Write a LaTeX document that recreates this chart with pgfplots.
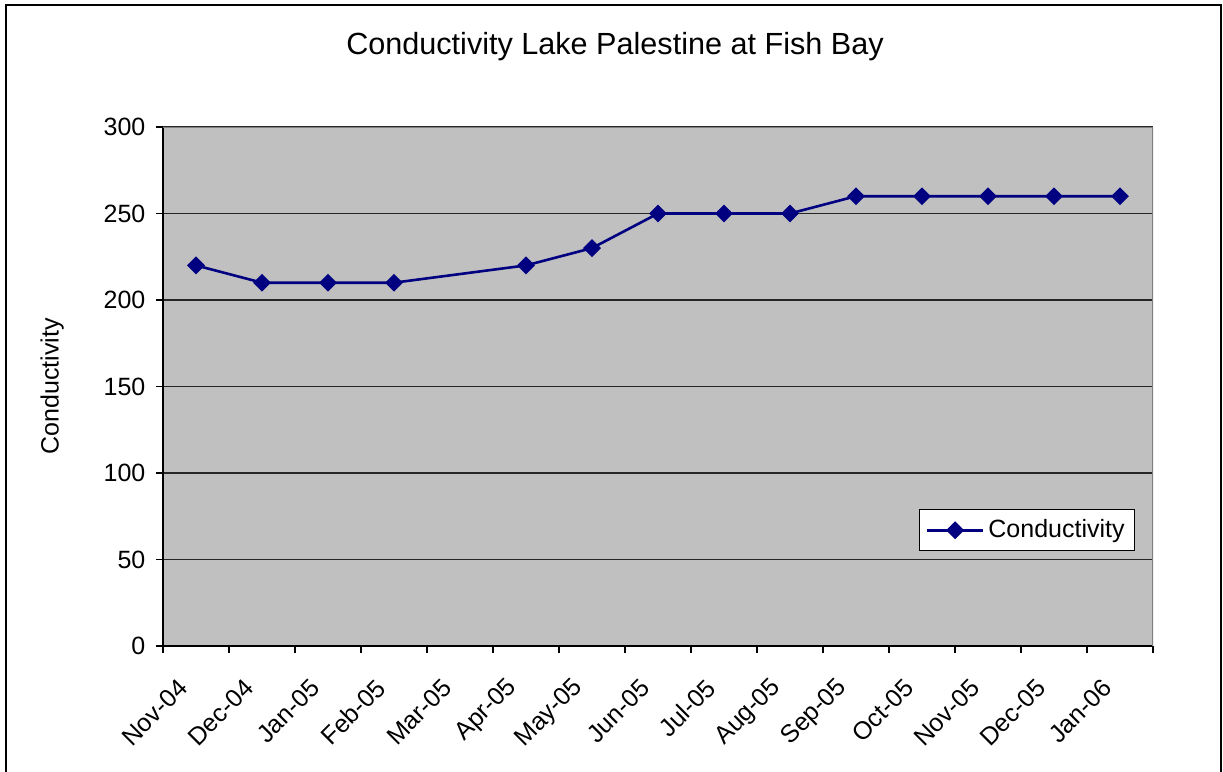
\documentclass[border=0pt]{standalone}
\usepackage{fontspec}
\setmainfont{Liberation Sans}
\usepackage{pgfplots}
\pgfplotsset{compat=1.18}

\definecolor{plotgray}{HTML}{C0C0C0}
\definecolor{navyblue}{HTML}{000080}
\definecolor{framegray}{HTML}{808080}

\begin{document}
\begin{tikzpicture}
\useasboundingbox (0,0) rectangle (611.5pt,386pt);
% outer chart frame (bottom edge lies outside the page)
\draw[line width=1pt] (3pt,-2pt) -- (3pt,383.5pt) -- (610.5pt,383.5pt) -- (610.5pt,-2pt);
\node[font=\fontsize{15.3}{18}\selectfont] at (307.5pt,362.5pt) {Conductivity Lake Palestine at Fish Bay};
\begin{axis}[
    at={(81.5pt,63pt)}, anchor=south west,
    scale only axis,
    width=495pt, height=259.5pt,
    xmin=0, xmax=15, ymin=0, ymax=300,
    axis x line*=bottom, axis y line*=left,
    axis line style={-, black, line width=0.8pt},
    axis background/.style={fill=plotgray},
    ytick={0,50,...,300},
    xtick={0,...,14},
    xticklabels={Nov-04,Dec-04,Jan-05,Feb-05,Mar-05,Apr-05,May-05,Jun-05,Jul-05,Aug-05,Sep-05,Oct-05,Nov-05,Dec-05,Jan-06},
    extra x ticks={15}, extra x tick labels={},
    ymajorgrids,
    major grid style={black!85, line width=0.7pt},
    tick align=outside,
    major tick length=3.5pt,
    tick style={black, line width=0.7pt},
    /pgf/number format/assume math mode=true,
    tick label style={font=\fontsize{12.5}{15}\selectfont},
    xticklabel style={xshift=12.5pt, yshift=-13pt, rotate=45, anchor=east},
    yticklabel style={xshift=-1.8pt},
    ylabel={Conductivity},
    ylabel style={at={(axis description cs:-0.112,0.5)}, anchor=center, font=\fontsize{12.5}{15}\selectfont},
    legend style={at={(rel axis cs:0.982,0.223)}, anchor=east, draw=black, fill=white,
        font=\fontsize{12.5}{15}\selectfont, line width=0.6pt, inner ysep=3pt},
    legend image code/.code={\draw[#1,mark repeat=2,mark phase=2] plot coordinates {(0pt,0pt) (14pt,0pt) (28pt,0pt)};},
]
\draw[framegray, line width=1pt] (rel axis cs:0,1) -- (rel axis cs:1,1) -- (rel axis cs:1,0);
\addplot[navyblue, line width=1.3pt, mark=square*, mark size=2.5pt,
    mark options={rotate=45, solid, fill=navyblue}] coordinates {
    (0.5,220) (1.5,210) (2.5,210) (3.5,210)
    (5.5,220) (6.5,230) (7.5,250) (8.5,250) (9.5,250)
    (10.5,260) (11.5,260) (12.5,260) (13.5,260) (14.5,260)
};
\legend{Conductivity}
\end{axis}
\end{tikzpicture}
\end{document}
